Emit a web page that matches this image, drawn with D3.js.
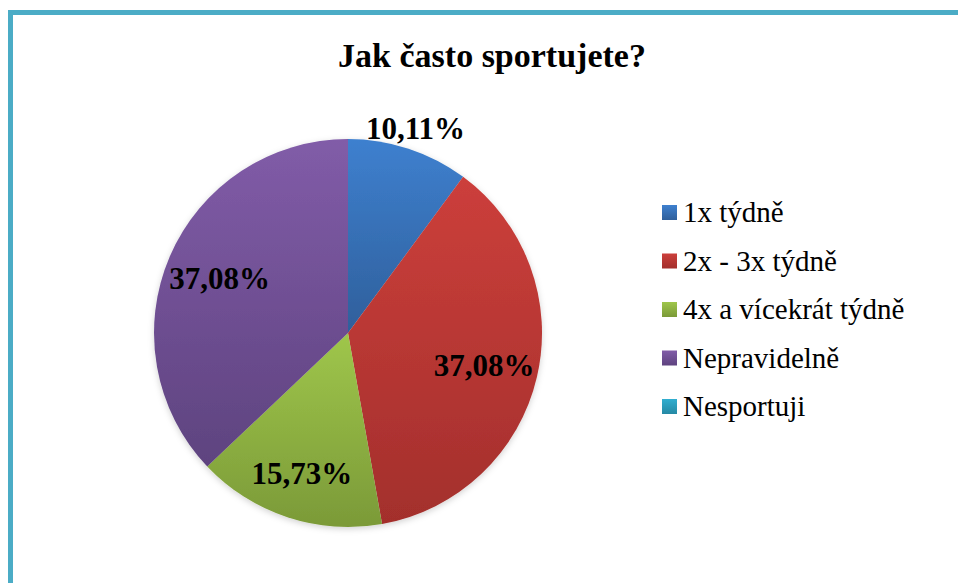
<!DOCTYPE html>
<html>
<head>
<meta charset="utf-8">
<script src="https://cdn.jsdelivr.net/npm/d3@7"></script>
<style>
  body { margin: 0; background: #fff; }
  svg { display: block; }
</style>
</head>
<body>
<svg id="viz"></svg>
<script>
// DATA
var categories = ["1x týdně", "2x - 3x týdně", "4x a vícekrát týdně", "Nepravidelně", "Nesportuji"];
var counts = [9, 33, 14, 33, 0];
var percentLabels = ["10,11%", "37,08%", "15,73%", "37,08%", "0,00%"];
var title = "Jak často sportujete?";

var w = 958, h = 583;
var font = "'Liberation Serif', 'DejaVu Serif', 'Times New Roman', Times, serif";
var viz = d3.select("#viz").attr("width", w).attr("height", h)
  .attr("font-family", font);

// colours: light at top, darker at bottom of each slice
var colorsTop = ["#3e80cf", "#cc3f3b", "#9fc64b", "#815ca8", "#31aed0"];
var colorsBottom = ["#2f5f9b", "#a32f2c", "#7b9a38", "#5e437f", "#2589a4"];

var defs = viz.append("defs");
categories.forEach(function(c, i) {
  var g = defs.append("linearGradient")
    .attr("id", "grad" + i)
    .attr("x1", 0).attr("y1", 0).attr("x2", 0).attr("y2", 1);
  g.append("stop").attr("offset", "0%").attr("stop-color", colorsTop[i]);
  g.append("stop").attr("offset", "100%").attr("stop-color", colorsBottom[i]);
});

var shadow = defs.append("filter").attr("id", "shadow")
  .attr("x", "-10%").attr("y", "-10%").attr("width", "120%").attr("height", "120%");
shadow.append("feDropShadow")
  .attr("dx", 0).attr("dy", 2).attr("stdDeviation", 3)
  .attr("flood-color", "#000").attr("flood-opacity", 0.18);

// frame
viz.append("rect")
  .attr("x", 10.5).attr("y", 12.5)
  .attr("width", w + 20).attr("height", h + 20)
  .attr("fill", "none")
  .attr("stroke", "#4bacc6")
  .attr("stroke-width", 5);

// title
viz.append("text")
  .attr("x", 492).attr("y", 67)
  .attr("text-anchor", "middle")
  .attr("font-family", font)
  .attr("font-size", 34)
  .attr("font-weight", "bold")
  .text(title);

// pie
var cx = 348, cy = 333, r = 194;
var pie = d3.pie().sort(null).value(function(d) { return d; });
var arcs = pie(counts);
var arc = d3.arc().innerRadius(0).outerRadius(r);
var total = d3.sum(counts);

var g = viz.append("g").attr("transform", "translate(" + cx + "," + cy + ")");

g.append("g").attr("filter", "url(#shadow)")
  .selectAll("path")
  .data(arcs)
  .enter()
  .append("path")
  .attr("d", arc)
  .attr("fill", function(d, i) { return "url(#grad" + i + ")"; });

// labels: inside for big slices, just outside the rim for small ones
var inside = d3.arc().innerRadius(r * 0.72).outerRadius(r * 0.72);
var insideSmall = d3.arc().innerRadius(r * 0.76).outerRadius(r * 0.76);
var outside = d3.arc().innerRadius(r + 22).outerRadius(r + 22);

g.selectAll("text.lbl")
  .data(arcs.filter(function(d) { return d.value > 0; }))
  .enter()
  .append("text")
  .attr("class", "lbl")
  .attr("transform", function(d) {
    var share = d.value / total;
    var a = share < 0.12 ? outside : (share < 0.2 ? insideSmall : inside);
    var p = a.centroid(d);
    return "translate(" + p[0] + "," + p[1] + ")";
  })
  .attr("text-anchor", "middle")
  .attr("dy", "0.35em")
  .attr("font-family", font)
  .attr("font-size", 31)
  .attr("font-weight", "bold")
  .text(function(d) { return percentLabels[d.index]; });

// legend
var legendY = d3.scalePoint().domain(categories).range([212.5, 406.5]);
var legend = viz.append("g");
var items = legend.selectAll("g")
  .data(categories)
  .enter()
  .append("g")
  .attr("transform", function(d) { return "translate(662," + legendY(d) + ")"; });

items.append("rect")
  .attr("x", 0).attr("y", -7.5)
  .attr("width", 15).attr("height", 15)
  .attr("fill", function(d, i) { return "url(#grad" + i + ")"; });

items.append("text")
  .attr("x", 21).attr("dy", "0.33em")
  .attr("font-family", font)
  .attr("font-size", 29)
  .text(function(d) { return d; });
</script>
</body>
</html>
